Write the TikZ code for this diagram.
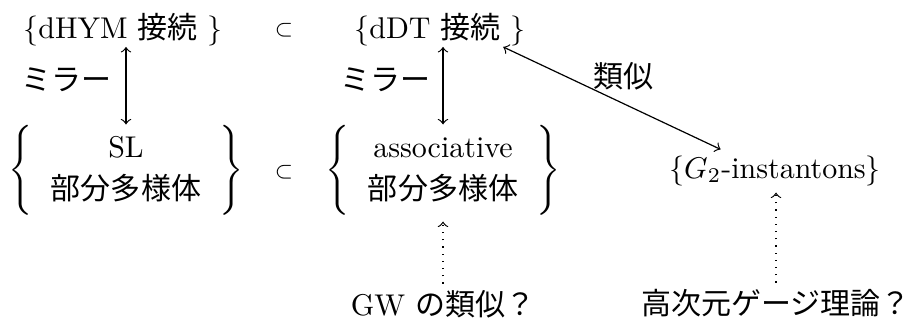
\documentclass[tikz,border=0pt]{standalone}
\usepackage{fontspec}
\newfontfamily\jp{Noto Sans CJK JP}
\usetikzlibrary{calc}
\renewcommand\arraystretch{1.18}
\begin{document}
\begin{tikzpicture}[x=0.3333pt,y=-0.3333pt,
  lbl/.style={inner sep=1pt},
  mir/.style={<->,thin},
  sim/.style={<->,thin},
  dot/.style={->,dotted,thin}]
\useasboundingbox (0,0) rectangle (912,327);
% top row
\node[lbl] (hym) at (123,30) {$\{$dHYM {\jp 接続} $\}$};
\node[lbl] (sub1) at (284,30) {$\scriptstyle\subset$};
\node[lbl] (ddt) at (440,30) {$\{$dDT {\jp 接続} $\}$};
% middle row
\node[lbl] (sl) at (126,170) {$\left\{\begin{tabular}{c}SL\\{\jp 部分多様体}\end{tabular}\right\}$};
\node[lbl] (sub2) at (284,172) {$\scriptstyle\subset$};
\node[lbl] (assoc) at (443,170) {$\left\{\begin{tabular}{c}associative\\{\jp 部分多様体}\end{tabular}\right\}$};
\node[lbl] (g2) at (775,171) {$\{G_2$-instantons$\}$};
% bottom row
\node[lbl] (gw) at (443,304) {GW {\jp の類似？}};
\node[lbl] (hd) at (776,303) {{\jp 高次元ゲージ理論？}};
% labels
\node[lbl,anchor=east] (m1) at (115,80) {{\jp ミラー}};
\node[lbl,anchor=east] (m2) at (434,80) {{\jp ミラー}};
\node[lbl] (simlbl) at (623,76) {{\jp 類似}};
% connectors
\draw[mir] ([yshift=1pt]sl.north |- hym.south) -- ([yshift=-1pt]sl.north);
\draw[mir] ([yshift=1pt]assoc.north |- ddt.south) -- ([yshift=-1pt]assoc.north);
\draw[sim] ($(ddt.south east)+(-26,-3)$) -- ($(g2.north west)+(55,-3)$);
\draw[dot] ([yshift=1pt]gw.north) -- ([yshift=-1pt]gw.north |- assoc.south);
\draw[dot] ([yshift=1pt]hd.north) -- ([yshift=-1pt]hd.north |- g2.south);
\end{tikzpicture}
\end{document}
